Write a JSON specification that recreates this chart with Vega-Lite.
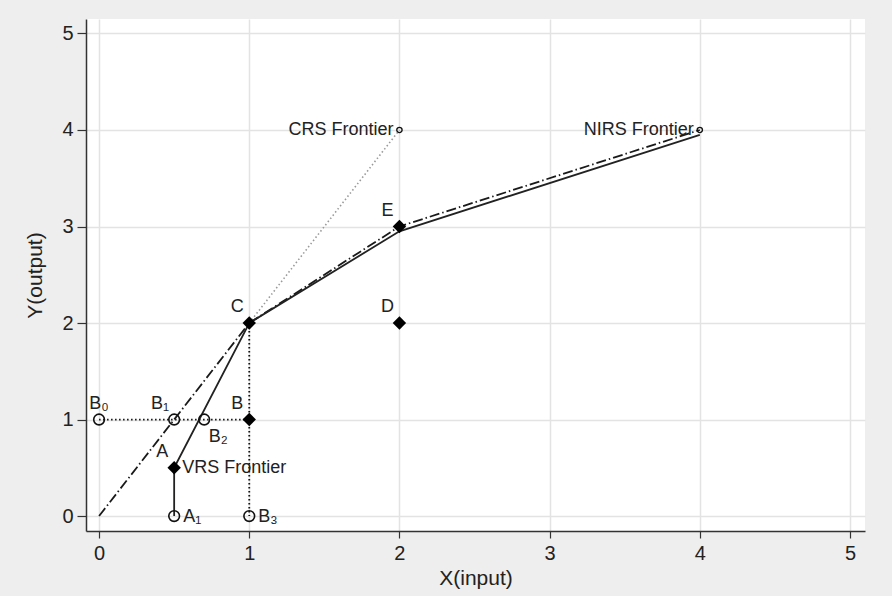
{
  "$schema": "https://vega.github.io/schema/vega-lite/v6.json",
  "width": 779,
  "height": 512,
  "autosize": {"type": "none"},
  "padding": {"left": 86, "top": 19, "right": 27, "bottom": 65},
  "background": "#eeeeee",
  "config": {
    "view": {"fill": "white", "stroke": null},
    "font": "Liberation Sans",
    "axis": {
      "domainColor": "#333333",
      "domainWidth": 1.5,
      "tickColor": "#333333",
      "tickWidth": 1.2,
      "gridColor": "#e3e3e3",
      "gridWidth": 1.5,
      "labelFont": "Liberation Sans",
      "labelFontSize": 20,
      "labelColor": "#222222",
      "titleFont": "Liberation Sans",
      "titleFontSize": 21,
      "titleFontWeight": "normal",
      "titleColor": "#222222"
    }
  },
  "datasets": {
    "dmu": [
      {"name": "A", "x": 0.5, "y": 0.5},
      {"name": "B", "x": 1, "y": 1},
      {"name": "C", "x": 1, "y": 2},
      {"name": "D", "x": 2, "y": 2},
      {"name": "E", "x": 2, "y": 3}
    ],
    "proj": [
      {"name": "B₀", "x": 0, "y": 1},
      {"name": "B₁", "x": 0.5, "y": 1},
      {"name": "B₂", "x": 0.7, "y": 1},
      {"name": "A₁", "x": 0.5, "y": 0},
      {"name": "B₃", "x": 1, "y": 0}
    ],
    "ends": [
      {"name": "CRS Frontier", "x": 2, "y": 4},
      {"name": "NIRS Frontier", "x": 4, "y": 4}
    ],
    "vrs": [
      {"i": 1, "x": 0.5, "y": 0},
      {"i": 2, "x": 0.5, "y": 0.5},
      {"i": 3, "x": 1, "y": 2},
      {"i": 4, "x": 2, "y": 2.95},
      {"i": 5, "x": 4, "y": 3.95}
    ],
    "nirs": [
      {"i": 1, "x": 0, "y": 0},
      {"i": 2, "x": 1, "y": 2},
      {"i": 3, "x": 2, "y": 3},
      {"i": 4, "x": 4, "y": 4}
    ],
    "crs": [
      {"i": 1, "x": 1, "y": 2},
      {"i": 2, "x": 2, "y": 4}
    ],
    "guides": [
      {"seg": "h", "i": 1, "x": 0, "y": 1},
      {"seg": "h", "i": 2, "x": 1, "y": 1},
      {"seg": "v", "i": 1, "x": 1, "y": 2},
      {"seg": "v", "i": 2, "x": 1, "y": 0}
    ]
  },
  "encoding": {
    "x": {
      "field": "x", "type": "quantitative",
      "scale": {"domain": [-0.087, 5.1], "nice": false, "zero": false},
      "axis": {"title": "X(input)", "values": [0, 1, 2, 3, 4, 5], "tickSize": 7, "labelPadding": 5, "titlePadding": 4, "labelFlush": false}
    },
    "y": {
      "field": "y", "type": "quantitative",
      "scale": {"domain": [-0.155, 5.15], "nice": false, "zero": false},
      "axis": {"title": "Y(output)", "values": [0, 1, 2, 3, 4, 5], "tickSize": 9, "labelPadding": 4, "titlePadding": 16, "labelFlush": false}
    }
  },
  "layer": [
    {
      "data": {"name": "guides"},
      "mark": {"type": "line", "color": "#111111", "strokeWidth": 1.8, "strokeDash": [1.5, 2.5]},
      "encoding": {"detail": {"field": "seg"}, "order": {"field": "i"}}
    },
    {
      "data": {"name": "crs"},
      "mark": {"type": "line", "color": "#9a9a9a", "strokeWidth": 1.6, "strokeDash": [1.5, 2.5]},
      "encoding": {"order": {"field": "i"}}
    },
    {
      "data": {"name": "nirs"},
      "mark": {"type": "line", "color": "#1a1a1a", "strokeWidth": 1.8, "strokeDash": [10, 3, 1.5, 3]},
      "encoding": {"order": {"field": "i"}}
    },
    {
      "data": {"name": "vrs"},
      "mark": {"type": "line", "color": "#222222", "strokeWidth": 1.8},
      "encoding": {"order": {"field": "i"}}
    },
    {
      "data": {"name": "proj"},
      "mark": {"type": "point", "shape": "circle", "filled": false, "color": "#111111", "strokeWidth": 1.6, "size": 115, "opacity": 1}
    },
    {
      "data": {"name": "ends"},
      "mark": {"type": "point", "shape": "circle", "filled": false, "color": "#111111", "strokeWidth": 1.4, "size": 28, "opacity": 1}
    },
    {
      "data": {"name": "dmu"},
      "mark": {"type": "point", "shape": "diamond", "filled": true, "color": "#000000", "size": 180, "opacity": 1}
    },
    {
      "data": {"name": "dmu"},
      "transform": [{"filter": {"field": "name", "oneOf": ["A", "B", "C", "D", "E"]}}],
      "mark": {"type": "text", "fontSize": 18, "color": "#222222", "align": "center", "baseline": "middle", "dx": -12, "dy": -16},
      "encoding": {"text": {"field": "name"}}
    },
    {
      "data": {"name": "proj"},
      "transform": [{"filter": {"field": "name", "oneOf": ["B₀"]}}],
      "mark": {"type": "text", "fontSize": 18, "color": "#222222", "align": "center", "baseline": "middle", "dx": 0, "dy": -16},
      "encoding": {"text": {"field": "name"}}
    },
    {
      "data": {"name": "proj"},
      "transform": [{"filter": {"field": "name", "oneOf": ["B₁"]}}],
      "mark": {"type": "text", "fontSize": 18, "color": "#222222", "align": "center", "baseline": "middle", "dx": -14, "dy": -16},
      "encoding": {"text": {"field": "name"}}
    },
    {
      "data": {"name": "proj"},
      "transform": [{"filter": {"field": "name", "oneOf": ["B₂"]}}],
      "mark": {"type": "text", "fontSize": 18, "color": "#222222", "align": "center", "baseline": "middle", "dx": 14, "dy": 17},
      "encoding": {"text": {"field": "name"}}
    },
    {
      "data": {"name": "proj"},
      "transform": [{"filter": {"field": "name", "oneOf": ["A₁", "B₃"]}}],
      "mark": {"type": "text", "fontSize": 18, "color": "#222222", "align": "left", "baseline": "middle", "dx": 9, "dy": 1},
      "encoding": {"text": {"field": "name"}}
    },
    {
      "data": {"values": [{"name": "VRS Frontier", "x": 0.5, "y": 0.5}]},
      "mark": {"type": "text", "fontSize": 18, "color": "#222222", "align": "left", "baseline": "middle", "dx": 8, "dy": 0},
      "encoding": {"text": {"field": "name"}}
    },
    {
      "data": {"name": "ends"},
      "mark": {"type": "text", "fontSize": 18, "color": "#222222", "align": "right", "baseline": "middle", "dx": -6, "dy": 0},
      "encoding": {"text": {"field": "name"}}
    }
  ]
}
